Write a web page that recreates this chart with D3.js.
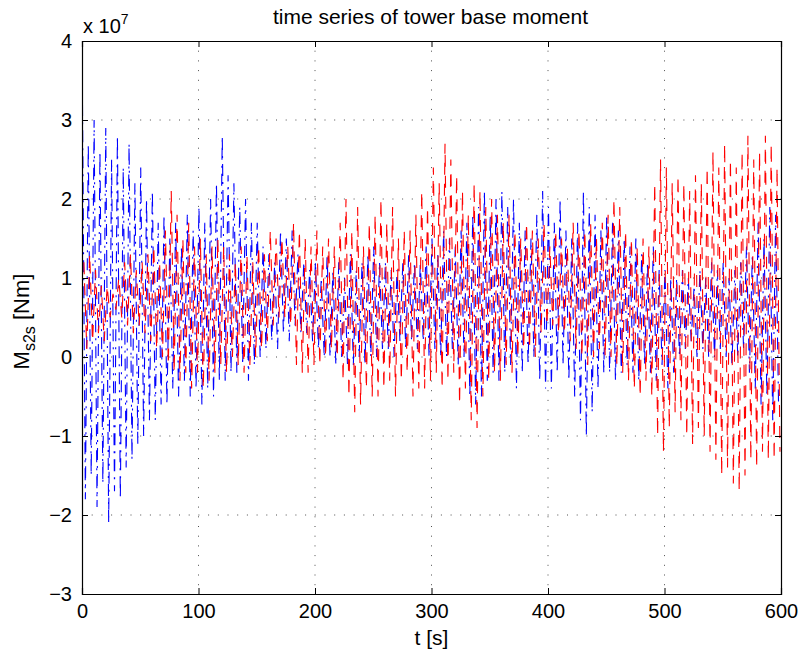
<!DOCTYPE html>
<html>
<head>
<meta charset="utf-8">
<script src="https://cdn.jsdelivr.net/npm/d3@7"></script>
<style>
  body { margin: 0; background: #fff; }
  text { font-family: "Liberation Sans", Arial, Helvetica, sans-serif; fill: #000; }
</style>
</head>
<body>
<div id="chart"></div>
<script>
// one peak and one trough per 5 s bin, values in 1e6 Nm
const binSeconds = 5;
const bluePeaks = [32,27,30,26,29,25,28,24,27,22,24,20,21,17,18,15,17,14,18,16,
  19,17,20,22,28,23,22,19,20,17,17,14,13,12,16,15,16,13,12,11,
  12,10,13,11,12,10,13,11,12,13,14,12,12,11,11,12,13,12,12,14,
  15,13,16,15,14,16,17,18,19,21,18,20,21,19,20,17,16,15,18,21,
  19,17,20,16,15,17,21,19,18,16,18,17,16,15,14,15,13,12,14,11,
  11,10,10,11,10,9,11,10,12,11,12,10,11,12,14,13,17,15,19,18];
const blueTroughs = [-18,-15,-19,-16,-21,-17,-18,-14,-13,-11,-10,-8,-8,-6,-6,-4,-5,-3,-5,-4,
  -6,-4,-5,-3,-3,-2,-2,-1,-3,-1,0,1,2,1,3,2,4,3,3,2,
  1,0,0,-1,0,-1,-1,0,-1,0,0,1,1,0,2,1,2,1,2,0,
  1,0,0,1,-1,0,-5,-6,-5,-3,-2,-3,-2,-1,-4,-2,-1,0,-3,-4,
  -4,-2,-1,-3,-5,-8,-10,-7,-4,-2,-2,-3,-2,-1,-2,-3,-1,-2,-3,-1,
  -4,-2,0,1,2,0,1,0,0,1,0,-1,0,1,-2,-4,-6,-5,-8,-6];
const redPeaks = [12,13,11,9,9,8,10,12,13,11,12,13,14,12,16,21,18,15,17,14,
  15,13,14,15,14,13,12,14,13,12,14,13,16,15,15,14,17,16,15,14,
  16,14,15,14,17,20,16,19,14,17,18,20,17,19,15,16,16,18,21,19,
  24,22,27,25,23,21,18,22,21,19,20,18,17,18,16,15,17,16,15,17,
  14,16,15,14,17,16,16,17,15,17,18,20,19,16,15,14,15,14,22,25,
  24,22,23,22,21,23,22,24,26,24,27,25,24,26,28,25,26,28,27,24];
const redTroughs = [1,2,3,2,5,6,5,4,3,4,3,2,1,0,-1,-2,-3,-2,-4,-2,
  -4,-3,-2,-1,-2,0,-1,-2,-1,0,1,2,4,5,5,4,-1,-2,-2,-1,
  -1,0,1,0,-3,-5,-7,-6,-4,-5,-5,-4,-3,-5,-3,-2,-5,-4,-4,-3,
  -2,-4,-3,-2,-6,-4,-8,-9,-5,-3,-2,-3,-1,-2,0,1,1,0,3,4,
  4,3,3,2,1,0,-1,0,1,0,0,-1,-2,-3,-4,-5,-3,-5,-10,-12,
  -9,-7,-8,-10,-11,-9,-10,-12,-13,-15,-14,-16,-17,-15,-13,-14,-12,-13,-13,-12];

const xTicks = [0, 100, 200, 300, 400, 500, 600];
const yTicks = [-3, -2, -1, 0, 1, 2, 3, 4];

const width = 803, height = 655;
const margin = {top: 41, right: 22, bottom: 61, left: 82};
const iw = width - margin.left - margin.right;
const ih = height - margin.top - margin.bottom;

const svg = d3.select("#chart").append("svg")
  .attr("width", width).attr("height", height);

const g = svg.append("g").attr("transform", `translate(${margin.left},${margin.top})`);

const x = d3.scaleLinear().domain([0, 600]).range([0, iw]);
const y = d3.scaleLinear().domain([-3e7, 4e7]).range([ih, 0]);

// grid
g.append("g").selectAll("line").data(xTicks.slice(1, -1)).join("line")
  .attr("x1", d => x(d)).attr("x2", d => x(d)).attr("y1", 0).attr("y2", ih)
  .attr("stroke", "#222").attr("stroke-width", 0.8).attr("stroke-dasharray", "1,8.7");
g.append("g").selectAll("line").data(yTicks.slice(1, -1)).join("line")
  .attr("x1", 0).attr("x2", iw).attr("y1", d => y(d * 1e7)).attr("y2", d => y(d * 1e7))
  .attr("stroke", "#222").attr("stroke-width", 0.8).attr("stroke-dasharray", "1,8.7");

g.append("clipPath").attr("id", "plotclip").append("rect")
  .attr("width", iw).attr("height", ih);

function toPoints(peaks, troughs, phase) {
  const pts = [];
  peaks.forEach((p, i) => {
    pts.push({t: i * binSeconds + phase, v: p * 1e6});
    pts.push({t: i * binSeconds + phase + binSeconds / 2, v: troughs[i] * 1e6});
  });
  return pts;
}

const line = d3.line().x(d => x(d.t)).y(d => y(d.v));

const plot = g.append("g").attr("clip-path", "url(#plotclip)");
plot.append("path").datum(toPoints(bluePeaks, blueTroughs, 0.4))
  .attr("d", line).attr("fill", "none").attr("stroke", "#0000ff")
  .attr("stroke-width", 1.1).attr("stroke-dasharray", "12,6,2,6");
plot.append("path").datum(toPoints(redPeaks, redTroughs, 1.6))
  .attr("d", line).attr("fill", "none").attr("stroke", "#ff0000")
  .attr("stroke-width", 1.1).attr("stroke-dasharray", "12,9");

// axes, MATLAB style: inward ticks on all four sides
const fmtY = d => d3.format("d")(d / 1e7);
const axL = g.append("g").call(d3.axisLeft(y).tickValues(yTicks.map(d => d * 1e7)).tickSize(-6).tickPadding(10).tickFormat(fmtY));
const axR = g.append("g").attr("transform", `translate(${iw},0)`)
  .call(d3.axisRight(y).tickValues(yTicks.map(d => d * 1e7)).tickSize(-6).tickFormat(""));
const axB = g.append("g").attr("transform", `translate(0,${ih})`)
  .call(d3.axisBottom(x).tickValues(xTicks).tickSize(-6).tickPadding(10).tickFormat(d3.format("d")));
const axT = g.append("g").call(d3.axisTop(x).tickValues(xTicks).tickSize(-6).tickFormat(""));

[axL, axR, axB, axT].forEach(a => {
  a.select(".domain").attr("stroke", "#000").attr("stroke-width", 1.2);
  a.selectAll(".tick line").attr("stroke", "#000").attr("stroke-width", 1);
  a.selectAll("text").attr("font-size", 20).attr("fill", "#000");
});

// exponent label
const expo = svg.append("text").attr("x", margin.left + 1).attr("y", 33).attr("font-size", 20);
expo.append("tspan").text("x 10");
expo.append("tspan").attr("font-size", 14).attr("dy", -9).text("7");

// title
svg.append("text").attr("x", margin.left + iw / 2 - 1).attr("y", 24)
  .attr("text-anchor", "middle").attr("font-size", 21).text("time series of tower base moment");

// x label
svg.append("text").attr("x", margin.left + iw / 2).attr("y", 645)
  .attr("text-anchor", "middle").attr("font-size", 21).text("t [s]");

// y label
const yl = svg.append("text").attr("transform", `translate(29,${margin.top + ih / 2 + 4}) rotate(-90)`)
  .attr("text-anchor", "middle").attr("font-size", 22);
yl.append("tspan").text("M");
yl.append("tspan").attr("font-size", 16).attr("dy", 6).text("s2s");
yl.append("tspan").attr("dy", -6).text(" [Nm]");
</script>
</body>
</html>
